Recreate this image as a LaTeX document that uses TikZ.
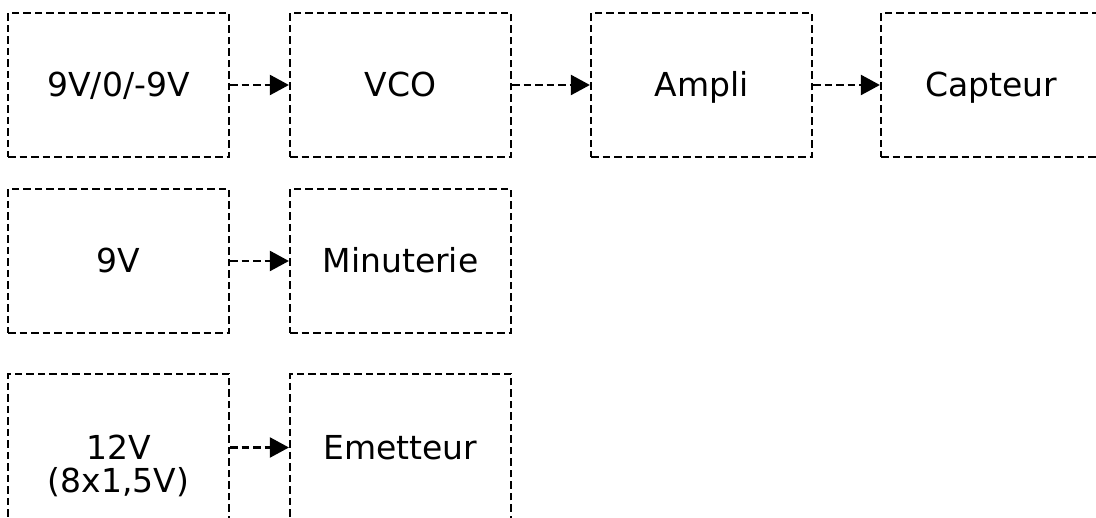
\documentclass[tikz,border=0pt]{standalone}
\usepackage{fontspec}
\setmainfont{DejaVu Sans}
\usetikzlibrary{arrows.meta}

\tikzset{
  bloc/.style={draw, dash pattern=on 3.75pt off 2pt, line width=1.1pt,
    minimum width=110.5pt, minimum height=72pt, inner sep=0pt,
    text height=12pt, text depth=0pt},
  fleche/.style={dash pattern=on 3.75pt off 2pt, line width=1.1pt,
    -{Triangle[length=9.5pt,width=10pt]}},
}

\begin{document}
\begin{tikzpicture}[x=0.5pt, y=0.5pt, font=\fontsize{16.5}{18}\selectfont]
\useasboundingbox (0,0) rectangle (1096,518);

% Chaine principale
\node[bloc] (alim)    at (118.5,433) {9V/0/-9V};
\node[bloc] (vco)     at (400.5,433) {VCO};
\node[bloc] (ampli)   at (701.5,433) {Ampli};
\node[bloc] (capteur) at (991.5,433) {Capteur};

% Minuterie
\node[bloc] (alim9) at (118.5,257) {9V};
\node[bloc] (minut) at (400.5,257) {Minuterie};

% Emetteur
\node[bloc, minimum height=73.5pt] (alim12) at (118.5,70.5) {12V};
\node[text height=12pt, text depth=0pt, inner sep=0pt] (piles) at (118.5,37) {(8x1,5V)};
\node[bloc, minimum height=73.5pt] (emet) at (400.5,70.5) {Emetteur};

% Liaisons
\foreach \a/\b in {alim/vco, vco/ampli, ampli/capteur, alim9/minut, alim12/emet}
  \draw[fleche] (\a) -- (\b);
\end{tikzpicture}
\end{document}
